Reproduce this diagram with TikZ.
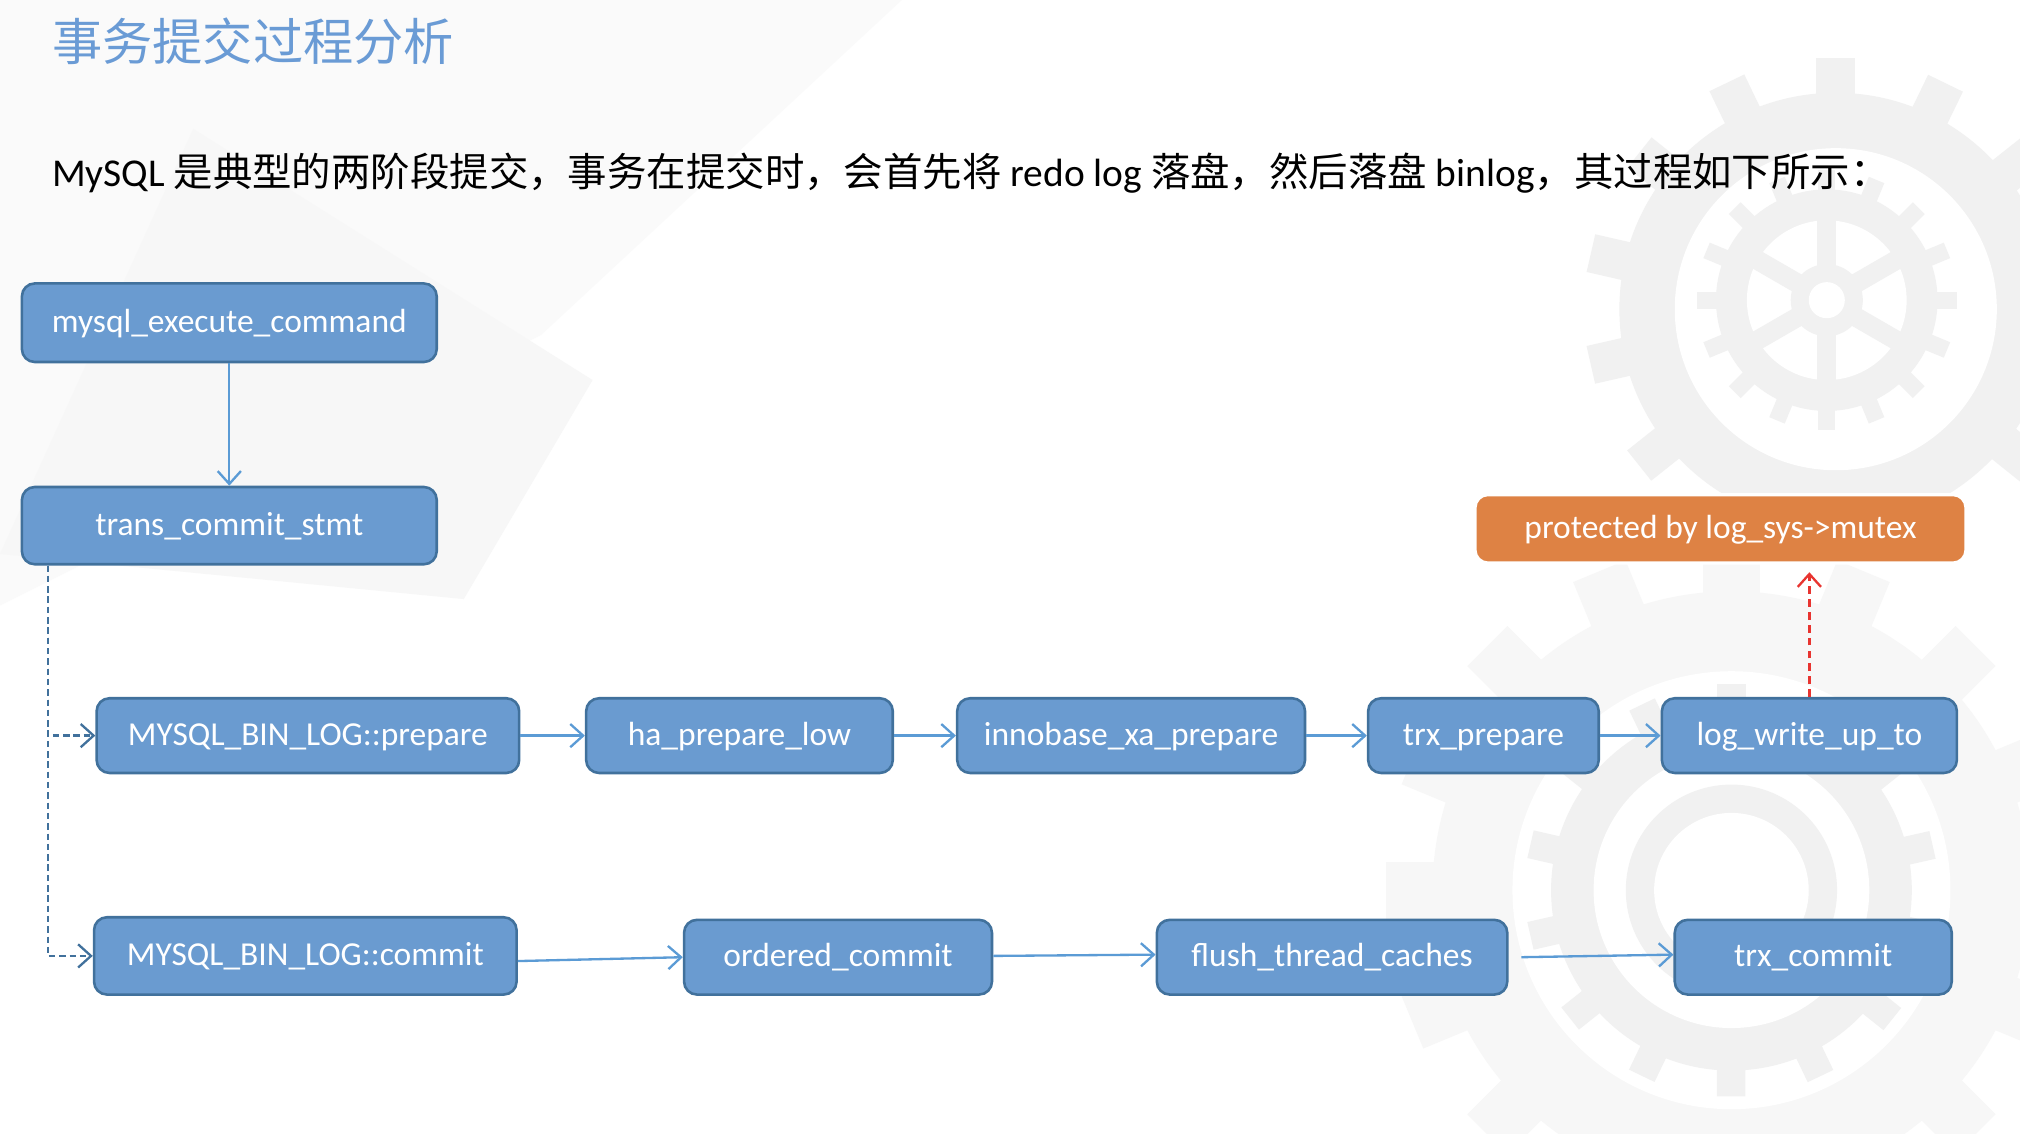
\documentclass[tikz,border=0pt]{standalone}
\usepackage{fontspec}
\setmainfont{Carlito}
\newfontfamily\cjk{Noto Sans CJK SC}
\usetikzlibrary{arrows.meta,calc}
\definecolor{boxfill}{RGB}{106,155,208}
\definecolor{boxedge}{RGB}{65,113,156}
\definecolor{arrowblue}{RGB}{91,155,213}
\definecolor{dashblue}{RGB}{65,113,156}
\definecolor{orangefill}{RGB}{222,130,68}
\definecolor{titleblue}{RGB}{106,155,213}
\definecolor{redline}{RGB}{232,52,48}
\definecolor{gearcol}{RGB}{241,241,241}
\definecolor{gearfaint}{RGB}{247,247,247}
\definecolor{bgcol}{RGB}{250,250,250}
\definecolor{bgcolb}{RGB}{247,247,247}
\tikzset{
  fnbox/.style 2 args={draw=boxedge, line width=1pt, fill=boxfill, rounded corners=5pt,
    text=white, font=\fontsize{13}{15}\selectfont, inner sep=0pt,
    text height=10pt, text depth=2.5pt,
    minimum width=#1*0.5pt, minimum height=#2*0.5pt},
  orbox/.style 2 args={draw=white, line width=1.2pt, fill=orangefill, rounded corners=5pt,
    text=white, font=\fontsize{13}{15}\selectfont, inner sep=0pt,
    text height=10pt, text depth=2.5pt,
    minimum width=#1*0.5pt, minimum height=#2*0.5pt},
  tip/.style={-{Straight Barb[length=5pt,width=9pt,line width=0.9pt]}},
  flow/.style={draw=arrowblue, line width=0.9pt, tip},
  dflow/.style={draw=dashblue, line width=0.9pt, dash pattern=on 2.5pt off 1.5pt, tip},
  rflow/.style={draw=redline, line width=0.9pt, dash pattern=on 3pt off 2pt, tip},
}
\begin{document}
\begin{tikzpicture}[x=0.5pt,y=-0.5pt]
\useasboundingbox (0,0) rectangle (1568,880);
\fill[white] (0,0) rectangle (1568,880);
% faint background decoration
\fill[bgcol] (0,0) -- (700,0) -- (420,260) -- (0,470) -- cycle;
\fill[bgcolb] (150,100) -- (460,295) -- (360,465) -- (0,430) -- cycle;
% upper gear
\begin{scope}[shift={(1425,240)}]
  \foreach \a in {0,25.7,...,340}
    \fill[gearcol, rotate=\a] (-15,-195) rectangle (15,-160);
  \fill[gearcol] (0,0) circle (168);
  \fill[white] (0,0) circle (125);
\end{scope}
\begin{scope}[shift={(1418,233)}]
  \foreach \a in {0,22.5,...,337.5}
    \fill[gearcol, rotate=\a] (-6.5,-101) rectangle (6.5,-80);
  \fill[gearcol] (0,0) circle (86);
  \fill[white] (0,0) circle (62);
  \foreach \a in {0,60,...,300}
    \fill[gearcol, rotate=\a] (-7.5,-70) rectangle (7.5,0);
  \fill[gearcol] (0,0) circle (28);
  \fill[white] (0,0) circle (14);
\end{scope}
% lower gears
\begin{scope}[shift={(1344,691)}]
  \foreach \a in {0,22.5,...,337.5}
    \fill[gearfaint, rotate=\a] (-22,-268) rectangle (22,-225);
  \fill[gearfaint] (0,0) circle (232);
  \fill[white] (0,0) circle (170);
  \foreach \a in {0,25.7,...,340}
    \fill[gearcol, rotate=\a] (-11,-160) rectangle (11,-135);
  \fill[gearcol] (0,0) circle (140);
  \fill[white] (0,0) circle (107);
  \fill[gearcol] (0,0) circle (82);
  \fill[white] (0,0) circle (60);
\end{scope}

% title and text
\node[anchor=west, inner sep=0pt, text=titleblue, font=\cjk\fontsize{19.5}{22}\selectfont] (title) at (40,32) {事务提交过程分析};
\node[anchor=west, inner sep=0pt, font=\fontsize{15.3}{18}\selectfont] (body) at (40,134)
  {MySQL {\cjk 是典型的两阶段提交，事务在提交时，会首先将} redo log {\cjk 落盘，然后落盘} binlog{\cjk ，其过程如下所示：}};

% nodes
\node[fnbox={322}{61}] (exec) at (178,250.5) {mysql\_execute\_command};
\node[fnbox={322}{60}] (trans) at (178,408) {trans\_commit\_stmt};
\node[fnbox={328}{58}] (prep) at (239,571) {MYSQL\_BIN\_LOG::prepare};
\node[fnbox={238}{58}] (ha) at (574,571) {ha\_prepare\_low};
\node[fnbox={270}{58}] (xa) at (878,571) {innobase\_xa\_prepare};
\node[fnbox={179}{58}] (trxp) at (1151.5,571) {trx\_prepare};
\node[fnbox={229}{58}] (lwu) at (1404.5,571) {log\_write\_up\_to};
\node[orbox={381}{53}] (prot) at (1335.5,410.5) {protected by log\_sys->mutex};
\node[fnbox={328}{60}] (commit) at (237,742) {MYSQL\_BIN\_LOG::commit};
\node[fnbox={239}{58}] (ord) at (650.5,743) {ordered\_commit};
\node[fnbox={272}{58}] (flush) at (1034,743) {flush\_thread\_caches};
\node[fnbox={215}{58}] (trxc) at (1407.5,743) {trx\_commit};

% connectors
\draw[flow] (exec.south) -- (trans.north);
\coordinate (dtop) at ($(trans.south west)+(21,0)$);
\draw[dflow] (dtop) |- (prep.west);
\draw[dflow] (dtop) |- (commit.west);
\draw[flow] (prep.east) -- (ha.west);
\draw[flow] (ha.east) -- (xa.west);
\draw[flow] (xa.east) -- (trxp.west);
\draw[flow] (trxp.east) -- (lwu.west);
\draw[rflow, shorten >=3pt] (lwu.north) -- (lwu.north |- prot.south);
\draw[flow] ($(commit.east)+(0,4)$) -- (ord.west);
\draw[flow] ($(ord.east)+(0,-1)$) -- ($(flush.west)+(0,-2)$);
\draw[flow] ($(flush.east)+(10,0)$) -- ($(trxc.west)+(0,-2)$);
\end{tikzpicture}
\end{document}
